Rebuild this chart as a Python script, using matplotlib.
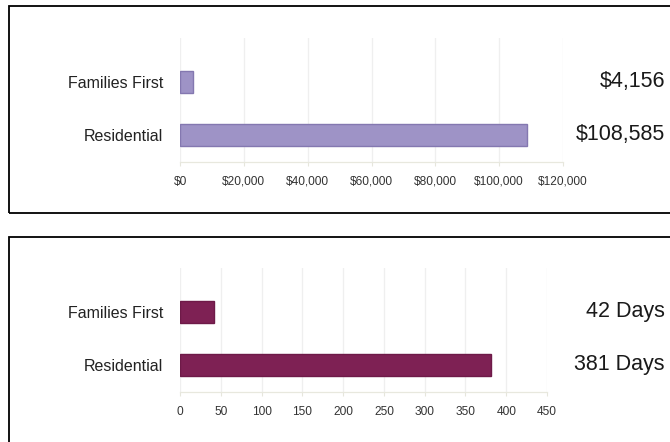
import matplotlib
matplotlib.use("Agg")
import matplotlib.pyplot as plt
from matplotlib.patches import Rectangle
from matplotlib.transforms import blended_transform_factory

plt.rcParams['font.family'] = ['Liberation Sans', 'DejaVu Sans']

categories = ["Residential", "Families First"]
cost_values = [108585, 4156]
cost_labels = ["$108,585", "$4,156"]
cost_ticks = [0, 20000, 40000, 60000, 80000, 100000, 120000]
cost_ticklabels = ["$0", "$20,000", "$40,000", "$60,000", "$80,000", "$100,000", "$120,000"]

days_values = [381, 42]
days_labels = ["381 Days", "42 Days"]
days_ticks = [0, 50, 100, 150, 200, 250, 300, 350, 400, 450]
days_ticklabels = [str(t) for t in days_ticks]

W, H = 670, 442
fig = plt.figure(figsize=(W / 100, H / 100), dpi=100)
fig.patch.set_facecolor("white")

# panel borders
for (y0, y1) in [(6, 213), (237, 460)]:
    fig.patches.append(Rectangle((9 / W, 1 - y1 / H), (700 - 9) / W, (y1 - y0) / H,
                                 transform=fig.transFigure, fill=False,
                                 edgecolor="black", linewidth=1.3, clip_on=False))


def panel(ax_top_px, ax_bot_px, x_right_px, values, labels, ticks, ticklabels,
          color, edge, xmax):
    ax = fig.add_axes([180 / W, 1 - ax_bot_px / H, (x_right_px - 180) / W,
                       (ax_bot_px - ax_top_px) / H])
    ypos = list(range(len(categories)))
    ax.barh(ypos, values, height=0.41, color=color, edgecolor=edge, linewidth=1.0,
            zorder=3)
    ax.set_xlim(0, xmax)
    ax.set_ylim(-0.51, 1.83)
    ax.set_xticks(ticks)
    ax.set_xticklabels(ticklabels, fontsize=8.6, color="#333333")
    ax.set_yticks(ypos)
    ax.set_yticklabels(categories, fontsize=11.5, color="#222222")
    ax.tick_params(axis="y", length=0, pad=12)
    ax.tick_params(axis="x", length=3, color="#e6e6dc", pad=7)
    ax.grid(axis="x", color="#efefef", linewidth=0.9, zorder=0)
    for s in ["top", "right", "left"]:
        ax.spines[s].set_visible(False)
    ax.spines["bottom"].set_color("#e8e8de")
    ax.spines["bottom"].set_linewidth(0.9)
    tr = blended_transform_factory(fig.transFigure, ax.transData)
    for y, lab in zip(ypos, labels):
        ax.text(665 / W, y, lab, transform=tr, ha="right", va="center",
                fontsize=15.5, color="#1a1a1a", clip_on=False)
    return ax


panel(38, 162, 563, cost_values, cost_labels, cost_ticks, cost_ticklabels,
      "#9e93c6", "#8478b0", 120000)
panel(268, 392, 547, days_values, days_labels, days_ticks, days_ticklabels,
      "#7e2154", "#6e1a48", 450)

fig.savefig("out.png", dpi=100, facecolor="white")
